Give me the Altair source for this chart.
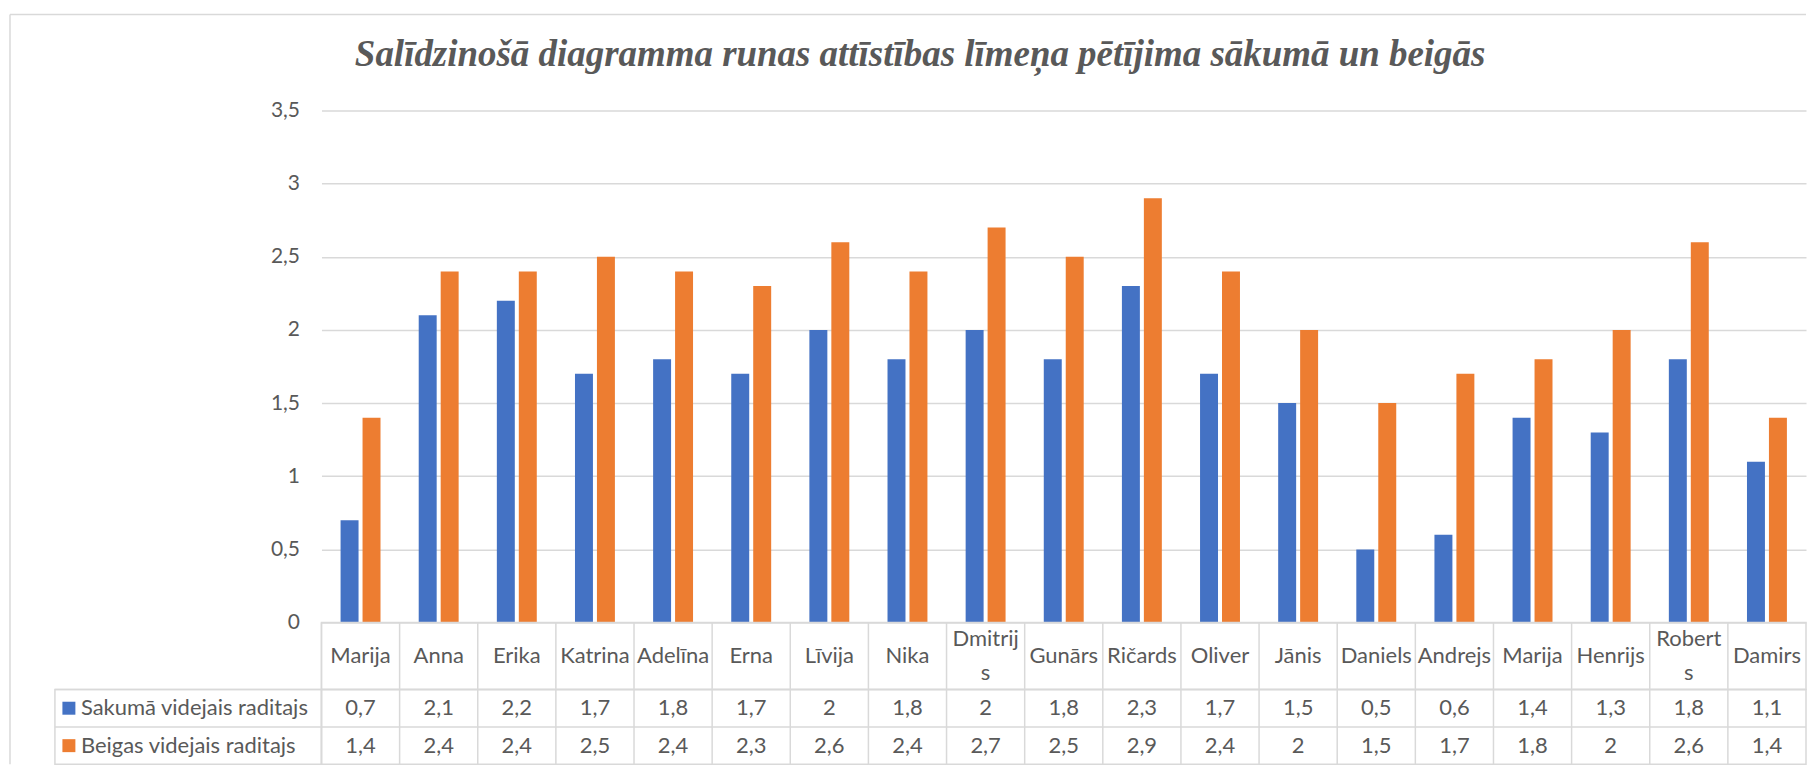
import altair as alt
import pandas as pd

# ---------------- data ----------------
names = ["Marija", "Anna", "Erika", "Katrina", "Adelīna", "Erna", "Līvija", "Nika",
         "Dmitrijs", "Gunārs", "Ričards", "Oliver", "Jānis", "Daniels", "Andrejs",
         "Marija", "Henrijs", "Roberts", "Damirs"]
start_vals = [0.7, 2.1, 2.2, 1.7, 1.8, 1.7, 2, 1.8, 2, 1.8, 2.3, 1.7, 1.5, 0.5, 0.6, 1.4, 1.3, 1.8, 1.1]
end_vals = [1.4, 2.4, 2.4, 2.5, 2.4, 2.3, 2.6, 2.4, 2.7, 2.5, 2.9, 2.4, 2, 1.5, 1.7, 1.8, 2, 2.6, 1.4]
series_names = ["Sakumā videjais raditajs", "Beigas videjais raditajs"]
series_colors = ["#4472C4", "#ED7D31"]
y_ticks = [0, 0.5, 1, 1.5, 2, 2.5, 3, 3.5]
wrapped_labels = {"Dmitrijs": ("Dmitrij", "s"), "Roberts": ("Robert", "s")}
title_text = "Salīdzinošā diagramma runas attīstības līmeņa pētījima sākumā un beigās"

# ---------------- tables ----------------
idx = list(range(len(names)))
rows = []
for i, n, s, e in zip(idx, names, start_vals, end_vals):
    rows.append({"idx": i, "name": n, "series": series_names[0], "value": s})
    rows.append({"idx": i, "name": n, "series": series_names[1], "value": e})
long_df = pd.DataFrame(rows)
long_df["label"] = long_df["value"].map(lambda v: f"{v:g}".replace(".", ","))
names_df = pd.DataFrame({
    "idx": idx,
    "single": ["" if n in wrapped_labels else n for n in names],
    "line1": [wrapped_labels[n][0] if n in wrapped_labels else "" for n in names],
    "line2": [wrapped_labels[n][1] if n in wrapped_labels else "" for n in names],
})
legend_df = pd.DataFrame({"series": series_names})
frame_df = pd.DataFrame({"k": [0]})

# ---------------- style ----------------
GRID = "#D9D9D9"
TXT = "#595959"
FONT = "Lato"
FS_AXIS = 21
FS_NAME = 22
FS_VAL = 22
LEG_W = 267
PLOT_W = 1487
PLOT_H = 513
NAME_H = 67
VAL_H = 75
TOP_GAP = 96
LW = 1.5

color_scale = alt.Scale(domain=series_names, range=series_colors)
band0 = alt.Scale(paddingInner=0, paddingOuter=0)
x_cells = alt.X("idx:O", scale=band0, axis=None)
x_edges = alt.X("idx:O", scale=band0, axis=None, bandPosition=0)
y_rows = alt.Y("series:N", sort=series_names, scale=band0, axis=None)
y_edges = alt.Y("series:N", sort=series_names, scale=band0, axis=None, bandPosition=0)
cell_box = alt.ViewBackground(stroke=GRID, strokeWidth=LW)
no_box = alt.ViewBackground(stroke="transparent")

# ---------------- bar chart ----------------
bars = alt.Chart(long_df).mark_bar().encode(
    x=alt.X("idx:O", scale=alt.Scale(paddingInner=0.489, paddingOuter=0.2445), axis=None),
    xOffset=alt.XOffset("series:N", sort=series_names,
                        scale=alt.Scale(paddingInner=0.182, paddingOuter=0)),
    y=alt.Y("value:Q", scale=alt.Scale(domain=[0, 3.5], nice=False),
            axis=alt.Axis(values=y_ticks, grid=True, gridColor=GRID, gridWidth=LW,
                          domain=False, ticks=False, labelPadding=22, labelFont=FONT,
                          labelFontSize=FS_AXIS, labelColor=TXT, format="~g",
                          labelExpr="replace(datum.label, '.', ',')", title=None)),
    color=alt.Color("series:N", scale=color_scale, legend=None),
).properties(width=PLOT_W, height=PLOT_H, view=no_box)

# ---------------- names row ----------------
name_style = dict(font=FONT, fontSize=FS_NAME, color=TXT, baseline="middle")
name_single = alt.Chart(names_df).mark_text(**name_style).encode(x=x_cells, text="single:N")
name_line1 = alt.Chart(names_df).mark_text(dy=-17, **name_style).encode(x=x_cells, text="line1:N")
name_line2 = alt.Chart(names_df).mark_text(dy=17, **name_style).encode(x=x_cells, text="line2:N")
name_rules = alt.Chart(names_df).mark_rule(color=GRID, strokeWidth=LW).encode(x=x_edges)
names_panel = alt.layer(name_rules, name_single, name_line1, name_line2).properties(
    width=PLOT_W, height=NAME_H, view=cell_box)

# ---------------- value rows ----------------
val_text = alt.Chart(long_df).mark_text(
    font=FONT, fontSize=FS_VAL, color=TXT, baseline="middle"
).encode(x=x_cells, y=y_rows, text="label:N")
val_col_rules = alt.Chart(names_df).mark_rule(color=GRID, strokeWidth=LW).encode(x=x_edges)
val_row_rules = alt.Chart(legend_df).mark_rule(color=GRID, strokeWidth=LW).encode(y=y_edges)
values_panel = alt.layer(val_col_rules, val_row_rules, val_text).properties(
    width=PLOT_W, height=VAL_H, view=cell_box)

# ---------------- legend column ----------------
leg_sq = alt.Chart(legend_df).mark_square(size=169, opacity=1).encode(
    x=alt.value(14), y=y_rows,
    color=alt.Color("series:N", scale=color_scale, legend=None))
leg_txt = alt.Chart(legend_df).mark_text(
    align="left", baseline="middle", font=FONT, fontSize=FS_NAME, color=TXT
).encode(x=alt.value(26), y=y_rows, text="series:N")
leg_rule = alt.Chart(legend_df).mark_rule(color=GRID, strokeWidth=LW).encode(y=y_edges)
legend_panel = alt.layer(leg_rule, leg_sq, leg_txt).properties(width=LEG_W, height=VAL_H, view=cell_box)

# ---------------- spacers + outer frame ----------------
left_line = alt.Chart(frame_df).mark_rule(color=GRID, strokeWidth=LW).encode(
    x=alt.value(-45), y=alt.value(-TOP_GAP), y2=alt.value(PLOT_H + NAME_H + VAL_H))
top_line = alt.Chart(frame_df).mark_rule(color=GRID, strokeWidth=LW).encode(
    x=alt.value(-45), x2=alt.value(LEG_W + PLOT_W), y=alt.value(-TOP_GAP))
spacer1 = alt.layer(left_line, top_line).properties(width=LEG_W, height=PLOT_H, view=no_box)
spacer2 = alt.Chart(frame_df).mark_point(opacity=0).encode(
    x=alt.value(0), y=alt.value(0)).properties(width=LEG_W, height=NAME_H, view=no_box)

chart = alt.concat(
    spacer1, bars, spacer2, names_panel, legend_panel, values_panel,
    columns=2, spacing=0, bounds="flush",
    padding={"left": 0, "top": 4, "right": 2, "bottom": 0},
    title=alt.Title(title_text, font="Liberation Serif", fontSize=37, fontStyle="italic",
                    fontWeight="bold", color=TXT, anchor="middle", offset=-61,
                    frame="bounds", dx=12),
).resolve_scale(x="independent", y="independent", color="shared").configure_view(stroke="transparent")

chart.save("out.html", embed_options={"renderer": "svg", "actions": False})
